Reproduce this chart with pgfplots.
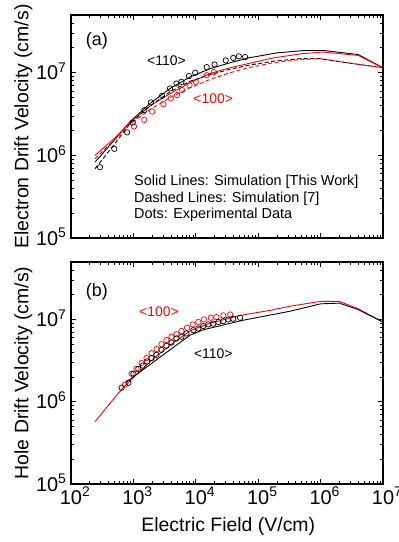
\documentclass[border=0pt]{standalone}
\usepackage{fontspec}
\setmainfont{Liberation Sans}
\usepackage{pgfplots}
\pgfplotsset{compat=1.18}
\begin{document}
\begin{tikzpicture}
\path[use as bounding box] (0,0) rectangle (399bp,542bp);
% ---------- panel (a) ----------
\begin{axis}[at={(71bp,304bp)}, anchor=south west,
    xmode=log, ymode=log, xmin=100, xmax=1e7, ymin=1e5, ymax=5e7,
    width=312bp, height=223bp, scale only axis,
    xtick={1e2,1e3,1e4,1e5,1e6,1e7},
    ytick={1e5,1e6,1e7},
    minor xtick={200,300,400,500,600,700,800,900,2000,3000,4000,5000,6000,7000,8000,9000,2e4,3e4,4e4,5e4,6e4,7e4,8e4,9e4,2e5,3e5,4e5,5e5,6e5,7e5,8e5,9e5,2e6,3e6,4e6,5e6,6e6,7e6,8e6,9e6},
    minor ytick={2e5,3e5,4e5,5e5,6e5,7e5,8e5,9e5,2e6,3e6,4e6,5e6,6e6,7e6,8e6,9e6,2e7,3e7,4e7},
    xticklabels={},
    yticklabels={10\textsuperscript{5},10\textsuperscript{6},10\textsuperscript{7}},
    tick label style={font=\fontsize{20}{22}\selectfont},
    yticklabel style={anchor=base east, inner sep=0pt, xshift=-4.3bp, yshift=-7.2bp},
    axis line style={line width=1.2bp},
    tick style={line width=0.8bp, black},
    major tick length=5bp, minor tick length=3bp,
    ylabel style={font=\fontsize{19.5}{22}\selectfont, at={(axis description cs:-0.1369,0.5)}, anchor=base, inner sep=0pt},
    ylabel={Electron Drift Velocity (cm/s)}]
\addplot[line width=0.9bp, black] coordinates {(243,8.3e5)(501,1.55e6)(891,2.57e6)(1862,4.27e6)(3890,6.46e6)(8128,8.9e6)(16982,1.12e7)(35481,1.32e7)(69183,1.51e7)(2.0e5,1.74e7)(5.6e5,1.86e7)(1.12e6,1.86e7)(4.0e6,1.66e7)(1e7,1.15e7)};
\addplot[line width=0.9bp, red] coordinates {(243,1.0e6)(501,1.62e6)(891,2.51e6)(1862,3.98e6)(3890,5.6e6)(8128,7.6e6)(16982,9.8e6)(35481,1.15e7)(69183,1.29e7)(1.74e5,1.51e7)(5.0e5,1.70e7)(1.1e6,1.78e7)(4.0e6,1.62e7)(1e7,1.15e7)};
\addplot[line width=0.9bp, black, dash pattern=on 4bp off 2.5bp] coordinates {(243,6.9e5)(501,1.38e6)(891,2.45e6)(1862,3.98e6)(3890,5.9e6)(8128,7.9e6)(16982,9.5e6)(35481,1.10e7)(69183,1.23e7)(1.74e5,1.38e7)(4.7e5,1.48e7)(9.8e5,1.48e7)(3.3e6,1.29e7)(1e7,1.15e7)};
\addplot[line width=0.9bp, red, dash pattern=on 4bp off 2.5bp] coordinates {(243,9.1e5)(501,1.55e6)(891,2.4e6)(1862,3.6e6)(3890,5.0e6)(8128,6.6e6)(16982,8.3e6)(35481,1.0e7)(69183,1.15e7)(1.74e5,1.32e7)(4.7e5,1.45e7)(9.8e5,1.48e7)(3.3e6,1.29e7)(1e7,1.15e7)};
\addplot[only marks, mark=o, mark size=2.7bp, mark options={solid, line width=0.7bp}, red] coordinates {(1023,2.24e6)(1496,2.69e6)(1995,3.39e6)(3020,4.17e6)(3981,4.9e6)(5012,5.37e6)(6026,6.17e6)(7943,7.08e6)(10000,7.76e6)(14962,9.33e6)(19498,1.02e7)};
\addplot[only marks, mark=o, mark size=2.7bp, mark options={solid, line width=0.7bp}, black] coordinates {(292,7.2e5)(494,1.2e6)(794,1.9e6)(977,2.5e6)(1496,3.52e6)(1905,4.37e6)(2884,5.25e6)(3864,6.46e6)(4898,7.41e6)(5888,7.76e6)(7762,9.1e6)(9772,1.0e7)(14962,1.17e7)(19953,1.26e7)(30200,1.41e7)(39811,1.51e7)(48978,1.58e7)(61660,1.55e7)};
\node[font=\fontsize{18}{20}\selectfont] at (axis cs:260,2.42e7) {(a)};
\node[font=\fontsize{14}{16}\selectfont] at (axis cs:3390,1.38e7) {<110>};
\node[font=\fontsize{14}{16}\selectfont, text=red] at (axis cs:19055,4.9e6) {<100>};
\node[font=\fontsize{14.5}{17}\selectfont, anchor=west, inner sep=0pt] at (axis cs:1023,4.85e5) {Solid Lines: Simulation [This Work]};
\node[font=\fontsize{14.5}{17}\selectfont, anchor=west, inner sep=0pt] at (axis cs:1023,2.97e5) {Dashed Lines: Simulation [7]};
\node[font=\fontsize{14.5}{17}\selectfont, anchor=west, inner sep=0pt] at (axis cs:1023,1.91e5) {Dots: Experimental Data};
\end{axis}
% ---------- panel (b) ----------
\begin{axis}[at={(71bp,58bp)}, anchor=south west,
    xmode=log, ymode=log, xmin=100, xmax=1e7, ymin=1e5, ymax=5e7,
    width=312bp, height=222bp, scale only axis,
    xtick={1e2,1e3,1e4,1e5,1e6,1e7},
    ytick={1e5,1e6,1e7},
    minor xtick={200,300,400,500,600,700,800,900,2000,3000,4000,5000,6000,7000,8000,9000,2e4,3e4,4e4,5e4,6e4,7e4,8e4,9e4,2e5,3e5,4e5,5e5,6e5,7e5,8e5,9e5,2e6,3e6,4e6,5e6,6e6,7e6,8e6,9e6},
    minor ytick={2e5,3e5,4e5,5e5,6e5,7e5,8e5,9e5,2e6,3e6,4e6,5e6,6e6,7e6,8e6,9e6,2e7,3e7,4e7},
    xticklabels={10\rlap{\textsuperscript{2}},10\rlap{\textsuperscript{3}},10\rlap{\textsuperscript{4}},10\rlap{\textsuperscript{5}},10\rlap{\textsuperscript{6}},10\rlap{\textsuperscript{7}}},
    yticklabels={10\textsuperscript{5},10\textsuperscript{6},10\textsuperscript{7}},
    tick label style={font=\fontsize{20}{22}\selectfont},
    xticklabel style={anchor=base, inner sep=0pt, yshift=-20.3bp},
    yticklabel style={anchor=base east, inner sep=0pt, xshift=-4.3bp, yshift=-7.2bp},
    axis line style={line width=1.2bp},
    tick style={line width=0.8bp, black},
    major tick length=5bp, minor tick length=3bp,
    ylabel style={font=\fontsize{19.5}{22}\selectfont, at={(axis description cs:-0.1369,0.5)}, anchor=base, inner sep=0pt},
    xlabel style={font=\fontsize{19.5}{22}\selectfont, at={(axis description cs:0.504,-0.2149)}, anchor=base, inner sep=0pt},
    xlabel={Electric Field (V/cm)},
    ylabel={Hole Drift Velocity (cm/s)}]
\addplot[line width=0.9bp, red] coordinates {(243,5.7e5)(351,8.1e5)(692,1.5e6)(1276,2.35e6)(2344,3.6e6)(4365,5.2e6)(8128,7.3e6)(16000,8.9e6)(51286,1.12e7)(1.55e5,1.29e7)(3.24e5,1.45e7)(1.0e6,1.66e7)(2.0e6,1.66e7)(4.0e6,1.35e7)(1e7,9.3e6)};
\addplot[line width=0.9bp, black] coordinates {(776,1.74e6)(2692,3.5e6)(8128,6.46e6)(13183,7.5e6)(57544,9.8e6)(3.24e5,1.26e7)(1.0e6,1.55e7)(2.0e6,1.58e7)(4.0e6,1.32e7)(1e7,9.3e6)};
\addplot[only marks, mark=o, mark size=2.7bp, mark options={solid, line width=0.7bp}, red] coordinates {(733,1.62e6)(933,2.19e6)(1122,2.51e6)(1349,2.95e6)(1622,3.39e6)(1950,3.89e6)(2344,4.37e6)(2818,5.01e6)(3388,5.62e6)(4074,6.17e6)(4898,6.61e6)(5888,7.24e6)(7244,7.94e6)(8913,8.71e6)(10965,9.33e6)(13490,1.0e7)(17378,1.05e7)(21380,1.07e7)(27542,1.12e7)(35481,1.15e7)};
\addplot[only marks, mark=o, mark size=2.7bp, mark options={solid, line width=0.7bp}, black] coordinates {(646,1.48e6)(832,1.70e6)(1000,2.19e6)(1202,2.51e6)(1413,2.75e6)(1660,3.09e6)(1950,3.39e6)(2344,3.72e6)(2818,4.27e6)(3388,4.79e6)(4074,5.25e6)(4898,5.89e6)(5888,6.17e6)(7079,6.76e6)(9120,7.41e6)(10965,7.76e6)(13183,8.32e6)(15849,8.71e6)(19055,8.91e6)(22909,9.33e6)(27542,9.55e6)(33113,1.0e7)(39811,1.02e7)(51286,1.05e7)};
\node[font=\fontsize{18}{20}\selectfont] at (axis cs:260,2.16e7) {(b)};
\node[font=\fontsize{14}{16}\selectfont, text=red] at (axis cs:2570,1.24e7) {<100>};
\node[font=\fontsize{14}{16}\selectfont] at (axis cs:19055,3.86e6) {<110>};
\end{axis}
\end{tikzpicture}
\end{document}
